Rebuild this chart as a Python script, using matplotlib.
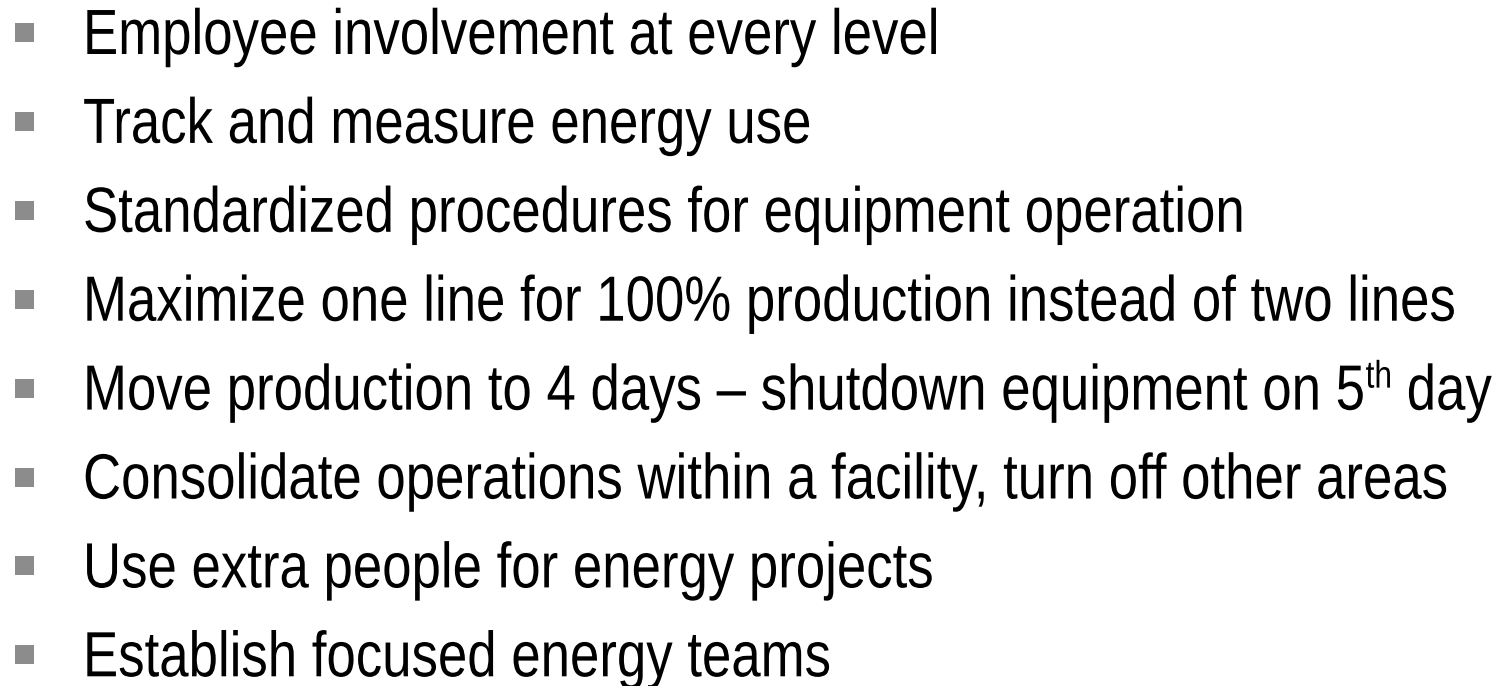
import matplotlib
matplotlib.use('Agg')
import matplotlib.pyplot as plt
from matplotlib.patches import Rectangle
from matplotlib.patheffects import AbstractPathEffect
from matplotlib.transforms import Affine2D

W, H = 1495, 686
DPI = 100

# slide bullets; the 5th one has a superscript part, kept as (before, sup, after)
items = [
    'Employee involvement at every level',
    'Track and measure energy use',
    'Standardized procedures for equipment operation',
    'Maximize one line for 100% production instead of two lines',
    ('Move production to 4 days \u2013 shutdown equipment on 5', 'th', ' day'),
    'Consolidate operations within a facility, turn off other areas',
    'Use extra people for energy projects',
    'Establish focused energy teams',
]

font = ['Liberation Sans', 'DejaVu Sans']
fsize = 46          # pt at 100 dpi -> ~64 px em
squeeze = 0.826     # Arial Narrow is ~82% of Arial's width
bullet_color = '#8c8c8c'

base0 = 54          # px from top, baseline of first line
step = 88.9         # px between baselines
text_x = 83
bul_x, bul_w = 15, 19


class Narrow(AbstractPathEffect):
    # squeeze glyphs horizontally around the text origin (no narrow font here)
    def __init__(self, sx):
        super().__init__()
        self.sx = sx

    def draw_path(self, renderer, gc, tpath, affine, rgbFace=None):
        x0, y0 = affine.transform((0, 0))
        aff = affine + Affine2D().translate(-x0, 0).scale(self.sx, 1).translate(x0, 0)
        renderer.draw_path(gc, tpath, aff, rgbFace)


fig = plt.figure(figsize=(W / DPI, H / DPI), dpi=DPI)
fig.patch.set_facecolor('white')
renderer = fig.canvas.get_renderer()


def fy(px):
    return 1 - px / H


def put(x, base, s, size):
    t = fig.text(x / W, fy(base), s, fontsize=size, family=font,
                 va='baseline', ha='left', color='black',
                 path_effects=[Narrow(squeeze)])
    return t.get_window_extent(renderer).width * squeeze


for i, it in enumerate(items):
    base = base0 + i * step
    fig.patches.append(Rectangle((bul_x / W, fy(base - 12)), bul_w / W, bul_w / H,
                                 transform=fig.transFigure, facecolor=bullet_color,
                                 edgecolor='none'))
    if isinstance(it, str):
        put(text_x, base, it, fsize)
    else:
        pre, sup, post = it
        x = text_x + put(text_x, base, pre, fsize) + 2
        x += put(x, base - 22, sup, fsize * 0.6)
        put(x, base, post, fsize)

fig.savefig('out.png', dpi=DPI)
